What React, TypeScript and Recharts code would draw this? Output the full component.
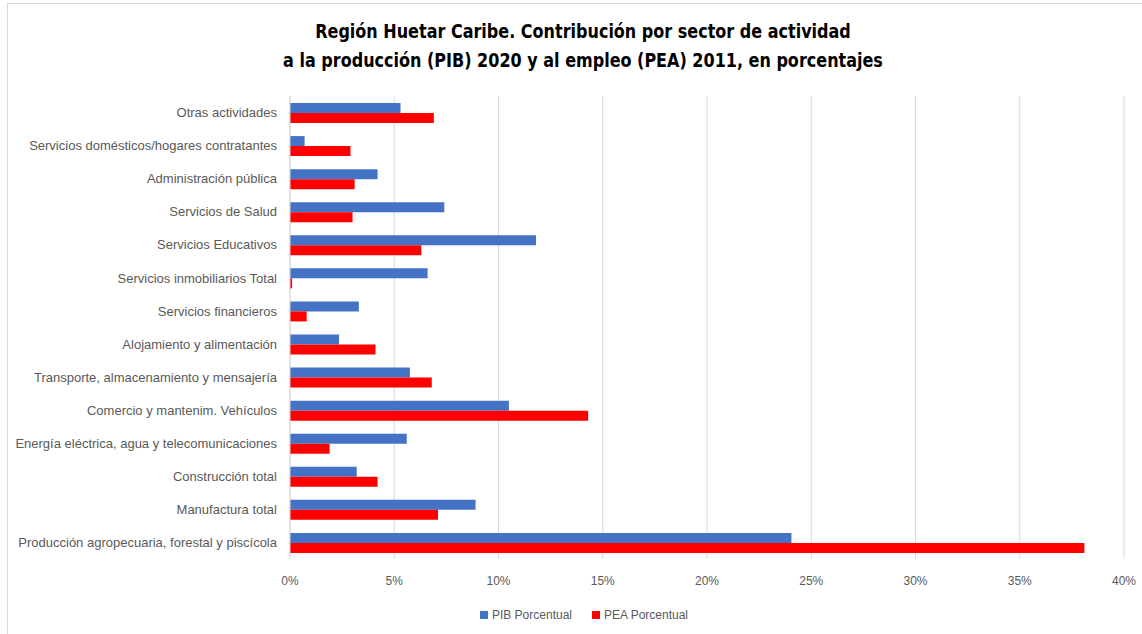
import { BarChart, Bar, XAxis, YAxis, CartesianGrid, Legend } from "recharts";

const categories = [
  "Otras actividades",
  "Servicios domésticos/hogares contratantes",
  "Administración pública",
  "Servicios de Salud",
  "Servicios Educativos",
  "Servicios inmobiliarios Total",
  "Servicios financieros",
  "Alojamiento y alimentación",
  "Transporte, almacenamiento y mensajería",
  "Comercio y mantenim. Vehículos",
  "Energía eléctrica,  agua y telecomunicaciones",
  "Construcción total",
  "Manufactura total",
  "Producción agropecuaria, forestal y piscícola",
];

const pib = [5.3, 0.7, 4.2, 7.4, 11.8, 6.6, 3.3, 2.35, 5.75, 10.5, 5.6, 3.2, 8.9, 24.05];
const pea = [6.9, 2.9, 3.1, 3.0, 6.3, 0.1, 0.8, 4.1, 6.8, 14.3, 1.9, 4.2, 7.1, 38.1];

const xTicks = [0, 5, 10, 15, 20, 25, 30, 35, 40];

const data = categories.map((name, i) => ({ name, pib: pib[i], pea: pea[i] }));

const BLUE = "#4472C4";
const RED = "#FF0000";
const TEXT = "#595959";
const FONT = "'Liberation Sans', Arial, sans-serif";
const TITLE_FONT = "'Liberation Sans Narrow', 'DejaVu Sans Condensed', sans-serif";

function LegendContent() {
  const item = (color: string, label: string) => (
    <span style={{ display: "inline-flex", alignItems: "center", marginRight: 20 }}>
      <span style={{ width: 8, height: 8, background: color, display: "inline-block", marginRight: 4 }} />
      <span style={{ color: TEXT, fontSize: 12, fontFamily: FONT }}>{label}</span>
    </span>
  );
  return (
    <div style={{ textAlign: "center", paddingLeft: 64, paddingTop: 6 }}>
      {item(BLUE, "PIB Porcentual")}
      {item(RED, "PEA Porcentual")}
    </div>
  );
}

const titleLine = {
  display: "block",
  transform: "scaleX(0.89)",
  transformOrigin: "center",
} as const;

export default function App() {
  return (
    <div style={{ position: "absolute", left: 0, top: 0, width: 1142, height: 634, background: "#fff", overflow: "hidden" }}>
      <div
        style={{
          position: "absolute",
          left: 7,
          top: 3,
          width: 1160,
          height: 650,
          border: "1px solid #d9d9d9",
        }}
      />
      <div
        style={{
          position: "absolute",
          left: 0,
          top: 17,
          width: 1166,
          textAlign: "center",
          fontFamily: TITLE_FONT,
          fontWeight: "bold",
          fontSize: 20,
          lineHeight: "29px",
          color: "#000",
        }}
      >
        <span style={titleLine}>Región Huetar Caribe. Contribución por sector de actividad</span>
        <span style={titleLine}>a la producción (PIB) 2020 y al empleo (PEA) 2011, en porcentajes</span>
      </div>
      <BarChart
        width={1142}
        height={634}
        data={data}
        layout="vertical"
        margin={{ top: 96, right: 18, left: 0, bottom: 0 }}
        barSize={10}
        barGap={0}
      >
        <CartesianGrid horizontal={false} stroke="#d9d9d9" />
        <XAxis
          type="number"
          domain={[0, 40]}
          ticks={xTicks}
          tickFormatter={(v: number) => `${v}%`}
          axisLine={false}
          tickLine={false}
          tickMargin={11}
          height={40}
          tick={{ fill: TEXT, fontSize: 12, fontFamily: FONT }}
        />
        <YAxis
          type="category"
          dataKey="name"
          width={290}
          interval={0}
          axisLine={{ stroke: "#d9d9d9" }}
          tickLine={false}
          tickMargin={7}
          tick={{ fill: TEXT, fontSize: 13, fontFamily: FONT }}
        />
        <Legend verticalAlign="bottom" height={35} content={<LegendContent />} />
        <Bar dataKey="pib" name="PIB Porcentual" fill={BLUE} isAnimationActive={false} />
        <Bar dataKey="pea" name="PEA Porcentual" fill={RED} isAnimationActive={false} />
      </BarChart>
    </div>
  );
}
